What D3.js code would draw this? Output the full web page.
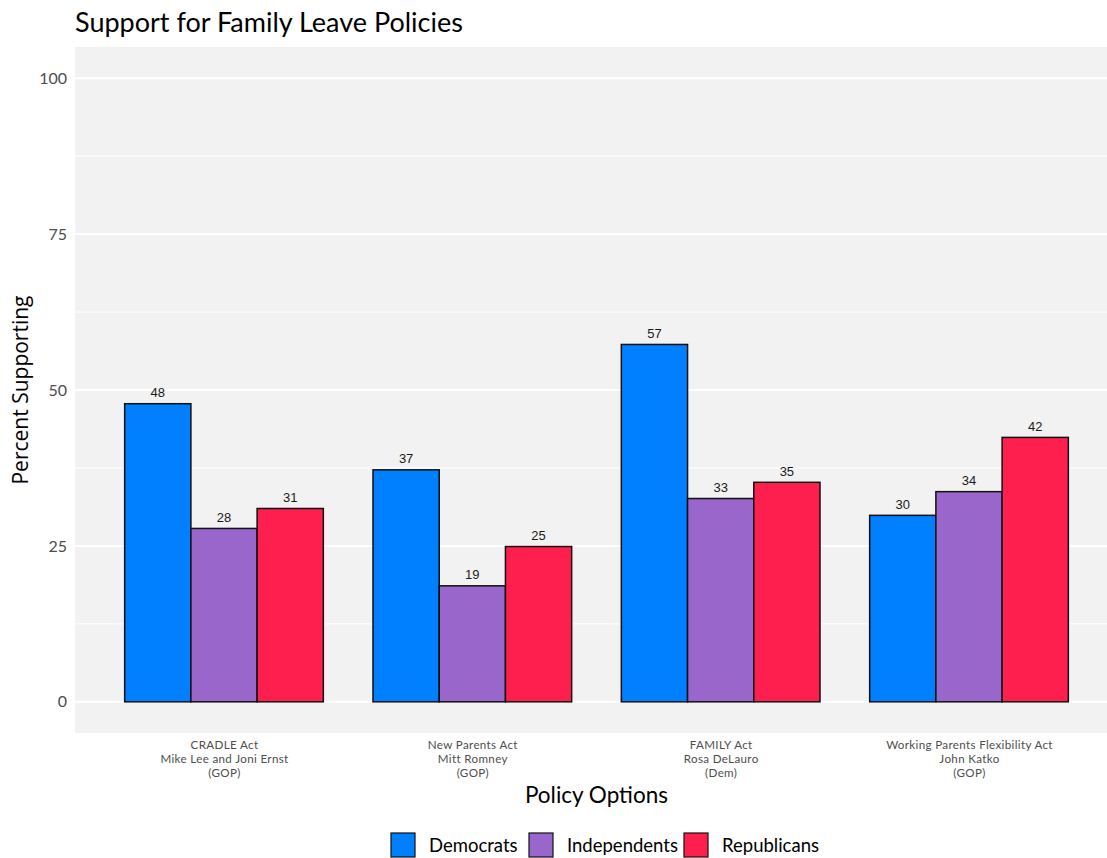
<!DOCTYPE html>
<html>
<head>
<meta charset="utf-8">
<script src="https://cdn.jsdelivr.net/npm/d3@7"></script>
<style>
  html, body { margin: 0; padding: 0; background: #fff; }
  svg { display: block; }
  .gill { font-family: "Lato", "Open Sans", sans-serif; }
</style>
</head>
<body>
<svg id="chart" width="1107" height="858"></svg>
<script>
// Policy options (x categories), one label line per entry
const policies = [
  ["CRADLE Act", "Mike Lee and Joni Ernst", "(GOP)"],
  ["New Parents Act", "Mitt Romney", "(GOP)"],
  ["FAMILY Act", "Rosa DeLauro", "(Dem)"],
  ["Working Parents Flexibility Act", "John Katko", "(GOP)"]
];
const parties = ["Democrats", "Independents", "Republicans"];
const partyColors = ["#007FFF", "#9966CC", "#FF1F4F"];

// Percent supporting each policy, by party (same order as policies)
const democrats    = [47.8, 37.2, 57.3, 29.9];
const independents = [27.8, 18.6, 32.6, 33.7];
const republicans  = [31.0, 24.9, 35.2, 42.4];

const yTicks = [0, 25, 50, 75, 100];
const yMinor = [12.5, 37.5, 62.5, 87.5];

const seriesValues = [democrats, independents, republicans];
const rows = [];
policies.forEach((p, i) => {
  parties.forEach((party, j) => {
    rows.push({ policy: i, party, color: partyColors[j], value: seriesValues[j][i] });
  });
});

const svg = d3.select("#chart");
const panel = { left: 75, top: 47, right: 1118, bottom: 733 };

// Discrete x with 0.6 padding on each side
const step = (panel.right - panel.left) / (policies.length - 1 + 1.2);
const x = d3.scalePoint()
  .domain(d3.range(policies.length))
  .range([panel.left + 0.6 * step, panel.right - 0.6 * step]);
const groupWidth = 0.8 * step;
const xInner = d3.scaleBand().domain(parties).range([-groupWidth / 2, groupWidth / 2]).padding(0);

// y with 5% expansion on each end
const y = d3.scaleLinear().domain([-5, 105]).range([panel.bottom, panel.top]);

// Panel background
svg.append("rect")
  .attr("x", panel.left).attr("y", panel.top)
  .attr("width", panel.right - panel.left).attr("height", panel.bottom - panel.top)
  .attr("fill", "#F2F2F2");

// Grid lines
svg.append("g").selectAll("line").data(yMinor).join("line")
  .attr("x1", panel.left).attr("x2", panel.right)
  .attr("y1", d => y(d)).attr("y2", d => y(d))
  .attr("stroke", "#fff").attr("stroke-width", 1);
svg.append("g").selectAll("line").data(yTicks).join("line")
  .attr("x1", panel.left).attr("x2", panel.right)
  .attr("y1", d => y(d)).attr("y2", d => y(d))
  .attr("stroke", "#fff").attr("stroke-width", 2);

// Bars
svg.append("g").selectAll("rect").data(rows).join("rect")
  .attr("x", d => x(d.policy) + xInner(d.party))
  .attr("width", xInner.bandwidth())
  .attr("y", d => y(d.value))
  .attr("height", d => y(0) - y(d.value))
  .attr("fill", d => d.color)
  .attr("stroke", "#111")
  .attr("stroke-width", 1.5);

// Value labels
svg.append("g").selectAll("text").data(rows).join("text")
  .attr("x", d => x(d.policy) + xInner(d.party) + xInner.bandwidth() / 2)
  .attr("y", d => y(d.value) - 6.5)
  .attr("text-anchor", "middle")
  .attr("font-family", "Liberation Sans, Arial, sans-serif")
  .attr("font-size", 13)
  .attr("fill", "#1a1a1a")
  .text(d => d3.format(".0f")(d.value));

// Y axis tick labels
const yAxis = d3.axisLeft(y).tickValues(yTicks).tickSize(0).tickPadding(8);
const gy = svg.append("g").attr("transform", `translate(${panel.left},0)`).call(yAxis);
gy.select(".domain").remove();
gy.selectAll("text")
  .attr("class", "gill")
  .attr("font-family", null)
  .attr("font-size", 16)
  .attr("fill", "#4D4D4D");

// X axis tick labels (multi-line)
const xAxis = d3.axisBottom(x).tickSize(0).tickFormat("");
const gx = svg.append("g").attr("transform", `translate(0,${panel.bottom})`).call(xAxis);
gx.select(".domain").remove();
gx.selectAll(".tick").each(function(i) {
  const t = d3.select(this).append("text")
    .attr("class", "gill")
    .attr("text-anchor", "middle")
    .attr("font-size", 11.6)
    .attr("letter-spacing", 0.35)
    .attr("fill", "#4D4D4D");
  policies[i].forEach((line, k) => {
    t.append("tspan").attr("x", 0).attr("y", 16 + k * 14).text(line);
  });
});

// Title
svg.append("text")
  .attr("class", "gill")
  .attr("x", panel.left).attr("y", 32)
  .attr("font-size", 27)
  .attr("fill", "#000")
  .text("Support for Family Leave Policies");

// Axis titles
svg.append("text")
  .attr("class", "gill")
  .attr("x", (panel.left + panel.right) / 2).attr("y", 803)
  .attr("text-anchor", "middle")
  .attr("font-size", 22.5)
  .attr("fill", "#000")
  .text("Policy Options");

svg.append("text")
  .attr("transform", `translate(28,${(panel.top + panel.bottom) / 2}) rotate(-90)`)
  .attr("text-anchor", "middle")
  .attr("font-family", "Open Sans, Noto Sans, sans-serif")
  .attr("font-size", 21)
  .attr("fill", "#000")
  .text("Percent Supporting");

// Legend
const legend = svg.append("g").attr("class", "legend");
const keyPos = [391, 529, 684];
parties.forEach((p, j) => {
  const g = legend.append("g").attr("transform", `translate(${keyPos[j]},833)`);
  g.append("rect").attr("width", 24).attr("height", 24)
    .attr("fill", partyColors[j]).attr("stroke", "#111").attr("stroke-width", 1.2);
  g.append("text").attr("class", "gill")
    .attr("x", 38).attr("y", 19)
    .attr("font-size", 18.5).attr("fill", "#000")
    .text(p);
});
</script>
</body>
</html>
